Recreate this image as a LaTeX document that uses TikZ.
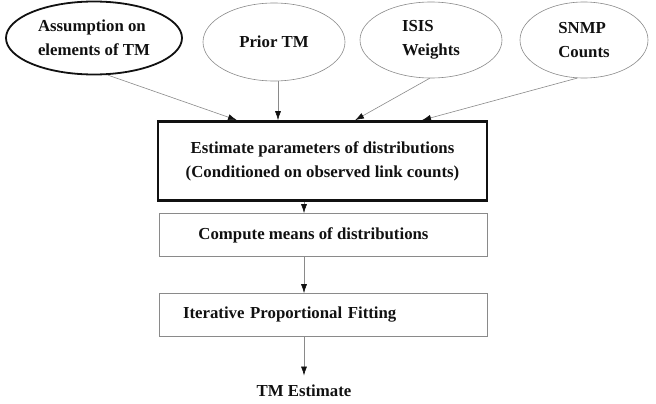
\documentclass[tikz,border=0pt]{standalone}
\usepackage{fontspec}
\setmainfont{Liberation Serif}
\usetikzlibrary{positioning,arrows.meta,calc,shapes.geometric}
\definecolor{ink}{HTML}{111111}
\definecolor{edge}{HTML}{8A8A8A}

\begin{document}
\begin{tikzpicture}[x=1pt,y=-1pt, every node/.style={font=\fontsize{16.8}{24}\selectfont\bfseries, text=ink},
  src/.style={draw=edge, ellipse, line width=.6pt, inner sep=0pt, align=left},
  keysrc/.style={src, draw=ink, line width=1.8pt},
  stage/.style={draw=edge, line width=.7pt, minimum width=328, minimum height=43, inner sep=0pt},
  mainstage/.style={draw=ink, line width=2.6pt, minimum width=329, minimum height=79, align=center, inner sep=0pt},
  feed/.style={draw=edge, line width=.6pt, -{Latex[length=9pt,width=6pt,color=ink]}},
]
  \useasboundingbox (0,0) rectangle (656,404);
  % Inputs
  \node[keysrc, minimum width=176, minimum height=73] (assump) at (94,38) {Assumption on\\elements of TM};
  \node[src, minimum width=142, minimum height=78] (prior) at (274,42) {Prior TM};
  \node[src, minimum width=142, minimum height=76] (isis) at (431,40) {ISIS\\Weights};
  \node[src, minimum width=128, minimum height=76] (snmp) at (584,40) {SNMP\\Counts};

  % Processing chain
  \node[mainstage] (estim) at (322.5,161) {Estimate parameters of distributions\\(Conditioned on observed link counts)};
  \node[stage] (means) at (323,235) {\hspace*{-19pt}Compute means of distributions};
  \node[stage, text width=280, align=left, inner xsep=24pt] (ipf) at (323,315) {Iterative Proportional Fitting};
  \node (tm) at (304,391) {TM Estimate};

  \coordinate (inA) at ($(estim.north)+(-85.5,0)$);
  \coordinate (inP) at ($(estim.north)+(-44.5,0)$);
  \coordinate (inI) at ($(estim.north)+(32.5,0)$);
  \coordinate (inS) at ($(estim.north)+(99.5,0)$);
  \draw[feed] (assump.-70) -- (inA);
  \draw[feed] (inP |- prior.south) -- (inP);
  \draw[feed] (isis.-92) -- (inI);
  \draw[feed] (snmp.-100) -- (inS);
  \draw[feed] ($(estim.south)+(-18.5,0)$) -- ($(means.north)+(-19,0)$);
  \draw[feed] ($(means.south)+(-19,0)$) -- ($(ipf.north)+(-19,0)$);
  \draw[feed] ($(ipf.south)+(-19,0)$) -- ($(tm.north)+(0,-6)$);
\end{tikzpicture}
\end{document}
